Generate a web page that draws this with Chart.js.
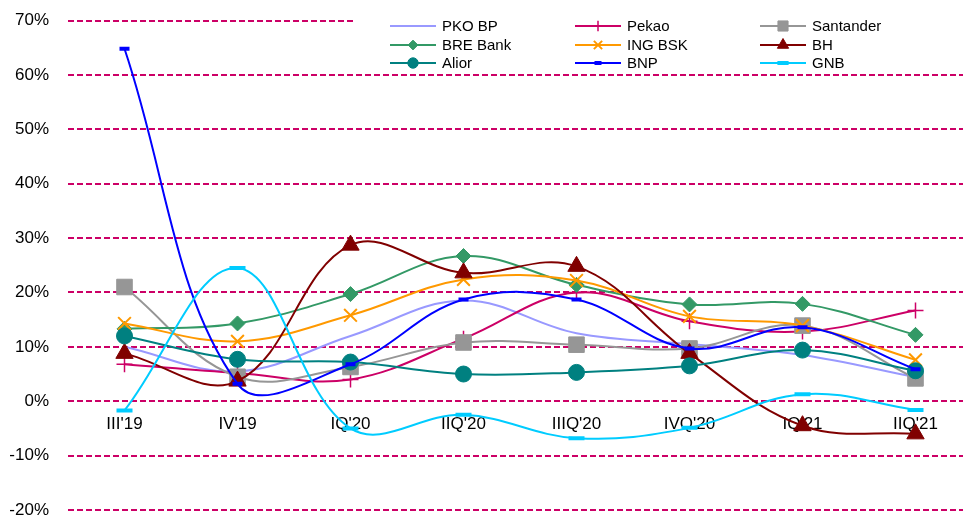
<!DOCTYPE html>
<html>
<head>
<meta charset="utf-8">
<script src="https://cdn.jsdelivr.net/npm/chart.js@4.4.1/dist/chart.umd.min.js"></script>
<style>
  html, body { margin: 0; padding: 0; background: #fff; overflow: hidden; }
  #wrap { position: relative; width: 963px; height: 518px; }
</style>
</head>
<body>
<div id="wrap"><canvas id="c"></canvas></div>
<script>
const categories = ["III'19", "IV'19", "IQ'20", "IIQ'20", "IIIQ'20", "IVQ'20", "IQ'21", "IIQ'21"];
const pkoBP     = [10.0, 5.5, 12.0, 18.5, 12.5, 10.5, 8.5, 4.4];
const pekao     = [6.8, 5.2, 4.0, 11.5, 20.0, 14.7, 12.8, 16.7];
const santander = [21.0, 4.5, 6.3, 10.8, 10.4, 9.7, 13.9, 4.2];
const breBank   = [13.3, 14.3, 19.7, 26.7, 21.4, 17.8, 17.9, 12.2];
const ingBSK    = [14.3, 11.0, 15.8, 22.4, 22.2, 15.6, 13.9, 7.6];
const bh        = [8.8, 3.7, 28.7, 23.6, 24.8, 8.8, -4.5, -6.0];
const alior     = [12.0, 7.7, 7.2, 5.0, 5.3, 6.5, 9.4, 5.6];
const bnp       = [64.8, 3.2, 6.8, 18.7, 18.7, 9.7, 13.6, 5.9];
const gnb       = [-1.7, 24.5, -5.0, -2.5, -6.8, -4.9, 1.3, -1.6];
const yTicks    = [-20, -10, 0, 10, 20, 30, 40, 50, 60, 70];

const FONT = '"Liberation Sans", Arial, sans-serif';

function series(label, data, color, style, radius, pbw) {
  return {
    label, data,
    borderColor: color, backgroundColor: color,
    pointBackgroundColor: color, pointBorderColor: color,
    pointStyle: style || 'circle',
    pointRadius: radius || 0,
    pointHoverRadius: radius || 0,
    pointBorderWidth: pbw || 1,
    borderWidth: 2,
    tension: 0.38,
    fill: false,
    clip: 20
  };
}

const datasets = [
  series('PKO BP', pkoBP, '#9999FF', 'circle', 0, 1),
  series('Pekao', pekao, '#CC0066', 'cross', 8, 1.5),
  series('Santander', santander, '#969696', 'rect', 11, 1),
  series('BRE Bank', breBank, '#339966', 'rectRot', 7.5, 1),
  series('ING BSK', ingBSK, '#FF9900', 'crossRot', 9, 2),
  series('BH', bh, '#800000', 'triangle', 10, 1),
  series('Alior', alior, '#008080', 'circle', 8, 1),
  series('BNP', bnp, '#0000FF', 'line', 5, 4),
  series('GNB', gnb, '#00CCFF', 'line', 8, 4)
];
datasets.forEach((d, i) => { d.order = -i; });

// The original plot area runs slightly past the right edge of the picture.
const extendX = {
  id: 'extendX',
  afterLayout(chart) {
    const s = chart.scales.x;
    s.right += 9;
    s.width += 9;
    s.configure();
  }
};

const legendPlugin = {
  id: 'boxLegend',
  afterDraw(chart) {
    const ctx = chart.ctx;
    ctx.save();
    ctx.fillStyle = '#ffffff';
    ctx.fillRect(356, 9, 640, 61);
    const cols = [390, 575, 760];
    const rows = [26, 45, 63];
    chart.data.datasets.forEach((ds, i) => {
      const x = cols[i % 3], y = rows[Math.floor(i / 3)];
      ctx.setLineDash([]);
      ctx.strokeStyle = ds.borderColor;
      ctx.fillStyle = ds.borderColor;
      ctx.lineWidth = 2;
      ctx.beginPath(); ctx.moveTo(x, y); ctx.lineTo(x + 46, y); ctx.stroke();
      if (ds.pointRadius > 0 && Chart.helpers && Chart.helpers.drawPoint) {
        ctx.lineWidth = ds.pointBorderWidth;
        Chart.helpers.drawPoint(ctx, {
          pointStyle: ds.pointStyle,
          radius: ds.pointStyle === 'line' ? ds.pointRadius * 0.7 : ds.pointRadius * 0.65,
          borderWidth: ds.pointBorderWidth,
          rotation: 0
        }, x + 23, y);
      }
      ctx.fillStyle = '#000';
      ctx.font = '15px ' + FONT;
      ctx.textBaseline = 'middle';
      ctx.textAlign = 'left';
      ctx.fillText(ds.label, x + 52, y + 1);
    });
    ctx.restore();
  }
};

new Chart(document.getElementById('c'), {
  type: 'line',
  data: { labels: categories, datasets },
  plugins: [extendX, legendPlugin],
  options: {
    responsive: true,
    maintainAspectRatio: false,
    animation: false,
    layout: { autoPadding: false, padding: { top: 20.5, bottom: 8, left: 0, right: 0 } },
    plugins: { legend: { display: false }, tooltip: { enabled: false } },
    scales: {
      x: {
        type: 'category',
        offset: true,
        position: { y: 0 },
        afterFit(s) { s.height = 0; },
        grid: { display: false, drawTicks: false },
        border: { display: false },
        ticks: { color: '#000', font: { family: FONT, size: 17 }, padding: 13, maxRotation: 0, autoSkip: false }
      },
      y: {
        min: -20, max: 70,
        afterFit(s) { s.width = 68; s.paddingTop = 0; s.paddingBottom = 0; },
        afterBuildTicks(s) { s.ticks = yTicks.map(v => ({ value: v })); },
        grid: { color: '#CC0066', lineWidth: 2, drawTicks: false },
        border: { display: false, dash: [6, 3] },
        ticks: { color: '#000', font: { family: FONT, size: 17 }, padding: 19, callback: v => v + '%' }
      }
    }
  }
});
</script>
</body>
</html>
